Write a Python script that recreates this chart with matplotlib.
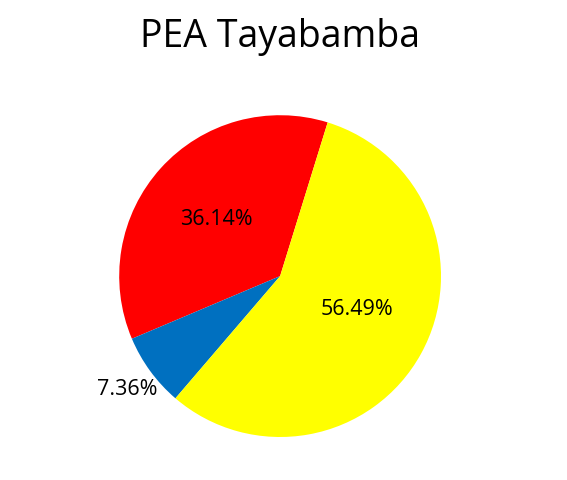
import numpy as np
import matplotlib.pyplot as plt

plt.rcParams['font.family'] = ['Open Sans', 'DejaVu Sans']

title = 'PEA Tayabamba'
shares = [36.14, 7.36, 56.49]
colors = ['#FF0000', '#0070C0', '#FFFF00']
label_dist = [0.53, 1.18, 0.52]

fig = plt.figure(figsize=(5.67, 4.81), dpi=100)
ax = fig.add_axes([0.21, 0.0894, 0.568, 0.669])

wedges, _ = ax.pie(shares, colors=colors, startangle=72.8,
                   wedgeprops={'linewidth': 0})
ax.set_aspect('equal')
ax.set_xlim(-1, 1)
ax.set_ylim(-1, 1)

# percent labels, the small slice one sits outside the pie
for i, (w, v, d) in enumerate(zip(wedges, shares, label_dist)):
    ang = (w.theta1 + w.theta2) / 2
    if i == 2:
        ang += 6  # big slice label sits a bit higher
    mid = np.deg2rad(ang)
    ax.text(d * np.cos(mid), d * np.sin(mid), f'{v:.2f}%',
            ha='center', va='center', fontsize=15.5)

fig.text(0.494, 0.923, title, ha='center', va='center', fontsize=27)

fig.savefig('out.png', dpi=100)
